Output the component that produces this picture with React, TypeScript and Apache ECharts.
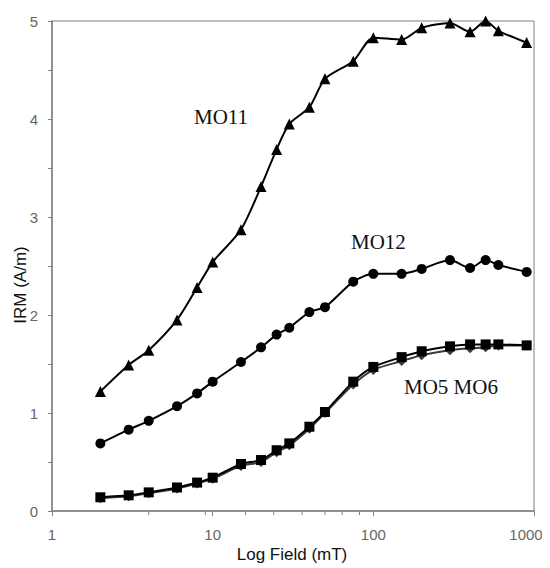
import React, { useEffect, useRef } from "react";
import * as echarts from "echarts";

const fields = [2, 3, 4, 6, 8, 10, 15, 20, 25, 30, 40, 50, 75, 100, 150, 200, 300, 400, 500, 600, 900];
const mo11 = [1.22, 1.49, 1.64, 1.95, 2.28, 2.54, 2.87, 3.31, 3.69, 3.95, 4.12, 4.41, 4.59, 4.83, 4.81, 4.93, 4.98, 4.89, 5.0, 4.9, 4.78];
const mo12 = [0.69, 0.83, 0.92, 1.07, 1.2, 1.32, 1.52, 1.67, 1.8, 1.87, 2.03, 2.08, 2.34, 2.42, 2.42, 2.47, 2.56, 2.48, 2.56, 2.51, 2.44];
const mo5 = [0.14, 0.16, 0.19, 0.24, 0.29, 0.34, 0.48, 0.52, 0.62, 0.69, 0.86, 1.01, 1.32, 1.47, 1.57, 1.63, 1.68, 1.7, 1.7, 1.7, 1.69];
const mo6 = [0.13, 0.15, 0.18, 0.23, 0.28, 0.33, 0.46, 0.5, 0.6, 0.67, 0.84, 1.0, 1.29, 1.44, 1.53, 1.59, 1.64, 1.66, 1.67, 1.69, 1.69];
const xMinorTicks = [4, 9, 16, 24, 36, 50, 64, 82];
const seriesLabels = ["MO11", "MO12", "MO5 MO6"];

const pair = (ys: number[]) => fields.map((x, i) => [x, ys[i]]);

export default function App() {
  const ref = useRef<HTMLDivElement>(null);
  useEffect(() => {
    if (!ref.current) return;
    const chart = echarts.init(ref.current, undefined, { renderer: "svg" });
    const axisColor = "#808080";
    const labelFont = { fontFamily: "Liberation Sans, Arial, sans-serif", fontSize: 15, color: "#666" };
    const lineSeries = (name: string, data: number[], symbol: string, size: number, color: string) => ({
      name,
      type: "line",
      data: pair(data),
      smooth: 0.25,
      symbol,
      symbolSize: size,
      showSymbol: true,
      itemStyle: { color },
      lineStyle: { color, width: 2 },
      z: 3,
    });
    chart.setOption({
      animation: false,
      grid: {
        left: 52,
        right: 16,
        top: 21,
        bottom: 57,
        show: true,
        borderColor: axisColor,
        borderWidth: 1,
        containLabel: false,
        outerBoundsMode: "none",
      },
      xAxis: {
        type: "log",
        logBase: 10,
        min: 1,
        max: 1000,
        axisLine: { lineStyle: { color: axisColor, width: 1.5 } },
        axisTick: { show: true, length: 5, lineStyle: { color: axisColor } },
        axisLabel: {
          ...labelFont,
          margin: 16,
          showMaxLabel: true,
          hideOverlap: false,
          formatter: (v: number) => (v >= 1000 ? "{r|" + String(v) + "}" : String(v)),
          rich: { r: { ...labelFont, padding: [0, 16, 0, 0] } },
        },
        splitLine: { show: false },
      },
      yAxis: {
        type: "value",
        min: 0,
        max: 5,
        interval: 1,
        axisLine: { show: true, lineStyle: { color: axisColor, width: 1.5 } },
        axisTick: { show: true, length: 4, lineStyle: { color: axisColor } },
        minorTick: { show: true, splitNumber: 2, length: 4, lineStyle: { color: axisColor } },
        axisLabel: { ...labelFont, margin: 14 },
        splitLine: { show: false },
      },
      series: [
        {
          type: "custom",
          silent: true,
          clip: false,
          data: xMinorTicks.map((v) => [v, 0]),
          renderItem: (params: any, api: any) => {
            const p = api.coord([api.value(0), api.value(1)]);
            return {
              type: "line",
              shape: { x1: p[0], y1: p[1], x2: p[0], y2: p[1] + 4 },
              style: { stroke: axisColor, lineWidth: 1 },
            };
          },
        },
        lineSeries("MO11", mo11, "triangle", 11, "#000"),
        lineSeries("MO12", mo12, "circle", 10, "#000"),
        lineSeries("MO6", mo6, "diamond", 10, "#3a3a3a"),
        lineSeries("MO5", mo5, "rect", 10, "#000"),
      ],
      graphic: [
        {
          type: "text",
          x: 194,
          y: 117,
          style: { text: seriesLabels[0], font: "21px 'Liberation Serif', 'Times New Roman', serif", fill: "#111", textVerticalAlign: "middle" },
        },
        {
          type: "text",
          x: 351,
          y: 242,
          style: { text: seriesLabels[1], font: "21px 'Liberation Serif', 'Times New Roman', serif", fill: "#111", textVerticalAlign: "middle" },
        },
        {
          type: "text",
          x: 404,
          y: 387,
          style: { text: seriesLabels[2], font: "21px 'Liberation Serif', 'Times New Roman', serif", fill: "#111", textVerticalAlign: "middle" },
        },
        {
          type: "text",
          x: 292,
          y: 554,
          style: { text: "Log Field (mT)", font: "17px 'Liberation Sans', Arial, sans-serif", fill: "#111", textAlign: "center", textVerticalAlign: "middle" },
        },
        {
          type: "text",
          x: 20,
          y: 285,
          rotation: Math.PI / 2,
          style: { text: "IRM (A/m)", font: "17px 'Liberation Sans', Arial, sans-serif", fill: "#111", textAlign: "center", textVerticalAlign: "middle" },
        },
      ],
    });
    return () => chart.dispose();
  }, []);
  return <div ref={ref} style={{ width: 550, height: 568, marginLeft: -8, marginTop: -8 }} />;
}
